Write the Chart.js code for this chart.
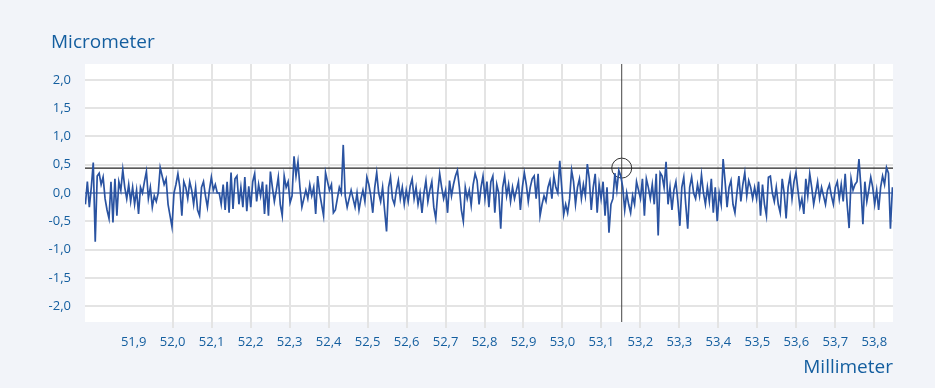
<!DOCTYPE html>
<html>
<head>
<meta charset="utf-8">
<script src="https://cdn.jsdelivr.net/npm/chart.js@4/dist/chart.umd.min.js"></script>
<style>
    html, body { margin: 0; padding: 0; background: #f2f4f9; }
    #wrap { width: 935px; height: 388px; position: relative; }
</style>
</head>
<body>
<div id="wrap"><canvas id="profile"></canvas></div>
<script>
// Profile samples (micrometer) left to right
const X_START = 51.776;   // mm, first sample
const X_STEP = 0.00505;   // mm between samples
const profile1 = [-0.2, 0.2, -0.25, 0.1, 0.54, -0.86, 0.3, 0.35, 0.15, 0.28, -0.1, -0.3, -0.45, 0.2, -0.52, 0.25, -0.4, 0.2, 0.05, 0.41, 0.1, -0.1, 0.15, -0.15, 0.1, -0.2, 0.05, -0.37, 0.1, 0.0, 0.2, 0.38, -0.1, 0.1, -0.25, -0.05, -0.15, 0.0, 0.45, 0.3, 0.15, 0.25, -0.2, -0.4, -0.6, 0.0, 0.15, 0.34, 0.1, -0.4, 0.2, 0.1, -0.1, 0.2, 0.05, -0.2, 0.1, -0.3, -0.4, 0.1, 0.2, -0.05, -0.25, 0.05, 0.28, 0.05, 0.15, 0.0];
const profile2 = [0.0, -0.2, 0.15, -0.3, 0.2, -0.35, 0.36, -0.28, 0.25, 0.3, -0.2, 0.1, -0.25, 0.28, -0.32, 0.12, -0.25, 0.2, 0.34, -0.15, 0.15, -0.05, 0.2, -0.37, 0.15, -0.4, 0.38, 0.1, -0.15, 0.05, 0.28, -0.2, -0.4, 0.3, 0.1, 0.2, -0.17, -0.05, 0.65, 0.3, 0.55, 0.1, -0.25, -0.1, 0.05, -0.1, 0.15, -0.05, 0.1, -0.37, 0.3, 0.0, -0.2, -0.4, 0.36, 0.2, 0.05, 0.15, -0.35, -0.3, -0.1, 0.1, 0.0, 0.85, -0.05, -0.25, -0.1, 0.05];
const profile3 = [-0.1, -0.25, 0.0, -0.3, -0.1, 0.05, -0.15, 0.28, 0.15, -0.05, -0.35, 0.1, 0.36, 0.0, -0.15, 0.1, -0.3, -0.68, 0.1, 0.28, -0.1, -0.2, 0.05, 0.22, -0.1, 0.1, -0.2, 0.05, -0.15, 0.12, 0.25, -0.1, 0.1, -0.2, 0.0, -0.35, 0.0, 0.22, -0.15, 0.05, 0.2, -0.25, -0.45, 0.0, 0.34, 0.1, -0.1, 0.05, -0.35, 0.22, -0.05, 0.15, 0.3, 0.4, 0.1, -0.3, -0.5, 0.1, -0.1, 0.05, -0.22, 0.15, 0.34, 0.22, -0.2, 0.1, 0.3, -0.1];
const profile4 = [0.2, -0.25, 0.2, 0.3, -0.35, 0.15, 0.0, -0.63, 0.1, 0.3, -0.05, 0.15, -0.15, 0.1, -0.1, 0.05, 0.2, -0.3, 0.1, 0.36, 0.15, -0.15, 0.1, 0.25, 0.3, -0.1, 0.34, -0.4, -0.2, -0.05, -0.15, 0.1, 0.22, -0.1, 0.3, 0.1, 0.0, 0.57, 0.1, -0.38, -0.2, -0.35, -0.1, 0.4, 0.2, -0.2, 0.1, 0.25, -0.1, 0.15, -0.05, 0.51, 0.25, -0.3, 0.1, 0.34, -0.35, 0.15, -0.1, 0.2, -0.4, 0.1, -0.7, -0.2, -0.1, 0.35, 0.05, 0.4];
const profile5 = [0.3, 0.1, -0.3, 0.0, -0.2, -0.35, -0.05, -0.2, 0.2, 0.05, -0.1, 0.25, -0.4, 0.25, 0.1, -0.1, 0.15, -0.2, 0.34, -0.75, 0.36, 0.3, 0.1, 0.55, -0.2, 0.1, -0.3, 0.05, 0.2, -0.15, -0.58, 0.1, 0.28, -0.2, -0.63, 0.1, 0.28, 0.0, -0.1, 0.15, -0.05, 0.32, 0.0, -0.2, 0.1, -0.15, 0.25, -0.35, 0.1, -0.5, 0.0, -0.2, 0.6, 0.2, -0.25, 0.1, 0.22, -0.2, -0.35, 0.0, 0.3, -0.15, 0.15, 0.36, -0.05, 0.22, 0.1, -0.1];
const profile6 = [0.1, -0.1, 0.2, -0.4, 0.15, -0.2, -0.4, 0.28, 0.3, 0.0, -0.15, 0.1, -0.2, -0.35, 0.25, 0.0, -0.45, 0.1, 0.3, -0.1, 0.2, 0.36, 0.05, -0.25, -0.1, -0.37, 0.25, -0.05, 0.34, 0.1, -0.2, 0.0, 0.2, -0.1, 0.1, -0.05, -0.2, 0.05, 0.15, -0.05, -0.2, 0.1, 0.2, -0.1, 0.15, -0.15, 0.34, -0.2, -0.62, 0.25, 0.05, 0.15, 0.2, 0.6, 0.1, -0.55, 0.2, -0.15, 0.05, 0.28, 0.1, -0.2, 0.05, -0.3, 0.1, 0.3, 0.15, 0.45, 0.35, -0.63, 0.1];

// Axis ticks and labels
const xTicks = [51.9, 52.0, 52.1, 52.2, 52.3, 52.4, 52.5, 52.6, 52.7, 52.8, 52.9, 53.0, 53.1, 53.2, 53.3, 53.4, 53.5, 53.6, 53.7, 53.8];
const xLabels = ['51,9', '52,0', '52,1', '52,2', '52,3', '52,4', '52,5', '52,6', '52,7', '52,8', '52,9', '53,0', '53,1', '53,2', '53,3', '53,4', '53,5', '53,6', '53,7', '53,8'];
const yTicks = [2.0, 1.5, 1.0, 0.5, 0.0, -0.5, -1.0, -1.5, -2.0];
const yLabels = ['2,0', '1,5', '1,0', '0,5', '0,0', '-0,5', '-1,0', '-1,5', '-2,0'];

// Cursor / reference level
const cursorX = 53.152;
const refLevel = 0.44;

const X_MIN = 51.775, X_MAX = 53.848;
const Y_MIN = -2.28, Y_MAX = 2.28;

const TEXT_BLUE = '#145e9f';
const LINE_BLUE = '#2a53a1';

const samples = [...profile1, ...profile2, ...profile3, ...profile4, ...profile5, ...profile6];
const profilePoints = samples.map((v, i) => ({ x: X_START + i * X_STEP, y: v }));

const plotBackground = {
    id: 'plotBackground',
    beforeDraw(chart) {
        const { ctx, chartArea: a } = chart;
        ctx.save();
        ctx.fillStyle = '#ffffff';
        ctx.fillRect(a.left, a.top, a.right - a.left, a.bottom - a.top);
        ctx.restore();
    },
    afterDraw(chart) {
        const { ctx, chartArea: a } = chart;
        ctx.save();
        ctx.fillStyle = TEXT_BLUE;
        ctx.font = '500 19px "Open Sans"';
        ctx.textBaseline = 'alphabetic';
        ctx.textAlign = 'left';
        ctx.fillText('Micrometer', 51, 48);
        ctx.textAlign = 'right';
        ctx.fillText('Millimeter', a.right, 373);
        ctx.restore();
    }
};

const ctx = document.getElementById('profile').getContext('2d');
new Chart(ctx, {
    type: 'scatter',
    data: {
        datasets: [
            {
                label: 'zero',
                data: [{ x: X_MIN, y: 0 }, { x: X_MAX, y: 0 }],
                showLine: true, borderColor: LINE_BLUE, borderWidth: 1, pointRadius: 0
            },
            {
                label: 'profile',
                data: profilePoints,
                showLine: true, borderColor: LINE_BLUE, borderWidth: 1.7, pointRadius: 0,
                borderJoinStyle: 'miter'
            },
            {
                label: 'level',
                data: [{ x: X_MIN, y: refLevel }, { x: X_MAX, y: refLevel }],
                showLine: true, borderColor: '#222222', borderWidth: 1.2, pointRadius: 0
            },
            {
                label: 'cursor',
                data: [{ x: cursorX, y: Y_MIN }, { x: cursorX, y: Y_MAX }],
                showLine: true, borderColor: '#444444', borderWidth: 1, pointRadius: 0
            },
            {
                label: 'marker',
                data: [{ x: cursorX, y: refLevel }],
                showLine: false, pointRadius: 10, pointStyle: 'circle',
                pointBackgroundColor: 'rgba(0,0,0,0)', pointBorderColor: '#333333', pointBorderWidth: 1
            }
        ]
    },
    options: {
        responsive: true,
        maintainAspectRatio: false,
        animation: false,
        layout: { padding: { top: 64, right: 42, left: 0, bottom: 0 } },
        plugins: {
            legend: { display: false },
            tooltip: { enabled: false }
        },
        scales: {
            x: {
                type: 'linear',
                min: X_MIN,
                max: X_MAX,
                afterBuildTicks: scale => { scale.ticks = xTicks.map(v => ({ value: v })); },
                afterFit: scale => { scale.height = 66; },
                border: { display: false },
                grid: {
                    color: c => (c.tick && c.tick.value < 51.95) ? 'rgba(0,0,0,0)' : '#e4e4e4',
                    lineWidth: 2,
                    tickLength: 6
                },
                ticks: {
                    autoSkip: false,
                    maxRotation: 0,
                    padding: 6,
                    color: TEXT_BLUE,
                    font: { family: 'Open Sans', size: 13, weight: '500' },
                    callback: v => {
                        const i = xTicks.findIndex(t => Math.abs(t - v) < 1e-6);
                        return i >= 0 ? xLabels[i] : '';
                    }
                }
            },
            y: {
                type: 'linear',
                min: Y_MIN,
                max: Y_MAX,
                afterBuildTicks: scale => { scale.ticks = yTicks.map(v => ({ value: v })); },
                afterFit: scale => { scale.width = 85; },
                border: { display: false },
                grid: { color: '#e4e4e4', lineWidth: 2, drawTicks: false },
                ticks: {
                    padding: 14,
                    color: TEXT_BLUE,
                    font: { family: 'Open Sans', size: 13, weight: '500' },
                    callback: v => {
                        const i = yTicks.findIndex(t => Math.abs(t - v) < 1e-6);
                        return i >= 0 ? yLabels[i] : '';
                    }
                }
            }
        }
    },
    plugins: [plotBackground]
});
</script>
</body>
</html>
